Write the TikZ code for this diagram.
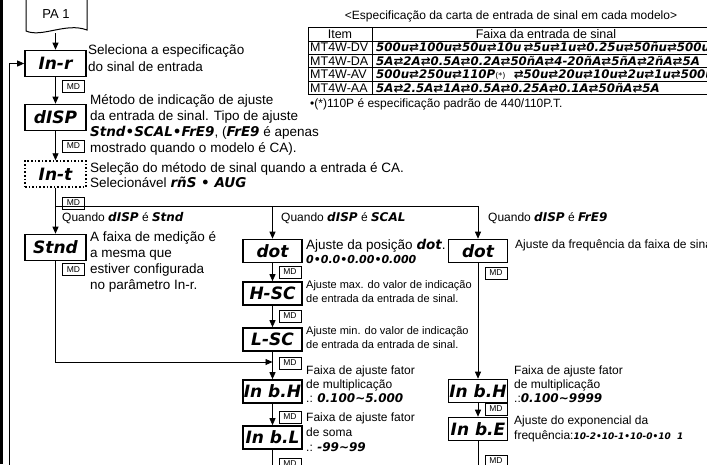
\documentclass[tikz,border=0pt]{standalone}
\usepackage{fontspec}
\setmainfont{Liberation Sans}
\newfontfamily\segfont{DejaVu Sans}
\usetikzlibrary{arrows.meta}
\newcommand{\segt}[1]{{\segfont\bfseries\itshape #1}}
\begin{document}
\begin{tikzpicture}[x=1pt,y=-1pt,
  dispbox/.style={draw, line width=1.6pt, minimum width=61pt, minimum height=26pt, inner sep=0pt,
    font=\segfont\bfseries\itshape\fontsize{17}{17}\selectfont},
  mdispbox/.style={dispbox, minimum width=59pt, minimum height=23pt},
  mdbox/.style={draw, line width=0.6pt, minimum width=22pt, minimum height=12pt, inner sep=0pt,
    font=\fontsize{8.5}{9}\selectfont},
  txt/.style={anchor=west, inner sep=0pt, align=left, font=\fontsize{13.5}{16}\selectfont},
  stxt/.style={anchor=west, inner sep=0pt, align=left, font=\fontsize{11}{13.5}\selectfont},
  conn/.style={line width=0.8pt},
  arr/.style={conn, -{Triangle[length=7pt,width=6pt]}},
  tline/.style={line width=0.7pt},
  ttxt/.style={inner sep=0pt, font=\fontsize{12.5}{12.5}\selectfont},
  tseg/.style={anchor=west, inner sep=0pt, font=\segfont\bfseries\itshape\fontsize{11.8}{12}\selectfont},
]
\useasboundingbox (0,0) rectangle (707,464);
\clip (0,0) rectangle (707,464);

% left page bar
\fill (0,0) rectangle (3,464);

% PA 1 document shape
\draw[line width=1pt] (26,-2) -- (26,31) .. controls (42,38) and (66,22) .. (87,30) -- (87,-2);
\node[inner sep=0pt, font=\fontsize{13}{13}\selectfont] (pa) at (56,14) {PA 1};
\coordinate (pab) at (55.5,33);

% left column
\node[dispbox] (inr) at (55.5,63.5) {In-r};
\node[dispbox] (disp) at (55.5,117.5) {dISP};
\node[dispbox, dotted, line width=1.4pt] (int) at (55.5,174) {In-t};
\node[dispbox] (stnd) at (55.5,247.5) {Stnd};

\node[mdbox] (md1) at (73.5,86.5) {MD};
\node[mdbox] (md2) at (73.5,146) {MD};
\node[mdbox] (md3) at (73.5,203) {MD};
\node[mdbox] (md4) at (73.5,269.5) {MD};

\node[txt, font=\fontsize{13.5}{17}\selectfont] (t1) at (88,58) {Seleciona a especificação\\do sinal de entrada};
\node[txt] (t2) at (90,125) {Método de indicação de ajuste\\da entrada de sinal. Tipo de ajuste\\\segt{Stnd•SCAL•FrE9}, (\segt{FrE9} é apenas\\mostrado quando o modelo é CA).};
\node[txt, font=\fontsize{13.5}{15}\selectfont] (t3) at (90,175.5) {Seleção do método de sinal quando a entrada é CA.\\Selecionável \segt{rñS • AUG}};
\node[txt] (t4) at (90,262) {A faixa de medição é\\a mesma que\\estiver configurada\\no parâmetro In-r.};

% connectors left
\draw[arr] (pab) -- (inr.north);
\draw[arr] (inr) -- (disp);
\draw[arr] (disp) -- (int);
\draw[arr] (int) -- (stnd);
\coordinate (loopb) at (9,470);
\draw[arr] (loopb) |- (inr.west);

% branch line
\coordinate (br) at (55.5,206);
\node[txt, font=\fontsize{12}{14}\selectfont] (q1) at (62,218) {Quando \segt{dISP} é \segt{Stnd}};
\node[txt, font=\fontsize{12}{14}\selectfont] (q2) at (281,218) {Quando \segt{dISP} é \segt{SCAL}};
\node[txt, font=\fontsize{12}{14}\selectfont] (q3) at (488,218) {Quando \segt{dISP} é \segt{FrE9}};

% middle column
\node[mdispbox] (dotm) at (272.5,251) {dot};
\node[mdispbox] (hsc) at (272.5,293.5) {H-SC};
\node[mdispbox] (lsc) at (272.5,339.5) {L-SC};
\node[mdispbox] (inbh) at (272.5,391.5) {In b.H};
\node[mdispbox] (inbl) at (272.5,437.5) {In b.L};

\node[mdbox] (md5) at (290,272) {MD};
\node[mdbox] (md6) at (290,316) {MD};
\node[mdbox] (md7) at (290,363) {MD};
\node[mdbox] (md8) at (290,417) {MD};
\node[mdbox] (md9) at (290,464) {MD};

\node[txt, font=\fontsize{13.5}{14}\selectfont] (m1) at (306,251) {Ajuste da posição \segt{dot}.\\{\segt{\fontsize{11}{11}\selectfont 0•0.0•0.00•0.000}}};
\node[stxt] (m2) at (306,291.5) {Ajuste max. do valor de indicação\\de entrada da entrada de sinal.};
\node[stxt] (m3) at (306,337.5) {Ajuste min. do valor de indicação\\de entrada da entrada de sinal.};
\node[stxt, font=\fontsize{12}{14}\selectfont] (m4) at (306,384.5) {Faixa de ajuste fator\\de multiplicação\\.: \segt{0.100\textasciitilde 5.000}};
\node[stxt, font=\fontsize{12}{15}\selectfont] (m5) at (306,432) {Faixa de ajuste fator\\de soma\\.: \segt{-99\textasciitilde 99}};

\draw[arr] (br) -| (dotm.north);
\draw[arr] (dotm) -- (hsc);
\draw[arr] (hsc) -- (lsc);
\draw[arr] (lsc) -- (inbh);
\draw[arr] (inbh) -- (inbl);
\coordinate (mend) at (272.5,470);
\draw[conn] (inbl) -- (mend);

\coordinate (sc) at (55.5,362);
\coordinate (mj) at (272.5,362);
\draw[arr] (stnd.south) -- (sc) -- (mj);

% right column
\node[mdispbox, minimum width=59pt] (dotr) at (478,251) {dot};
\node[mdispbox, minimum width=59pt] (inbhr) at (478,391) {In b.H};
\node[mdispbox, minimum width=59pt] (inbe) at (478,429) {In b.E};

\node[mdbox] (md10) at (496,273) {MD};
\node[mdbox] (md11) at (496,409) {MD};
\node[mdbox] (md12) at (496,461) {MD};

\node[stxt, font=\fontsize{12}{14}\selectfont] (r1) at (515,245) {Ajuste da frequência da faixa de sinal};
\node[stxt, font=\fontsize{12}{14}\selectfont] (r2) at (514,384.5) {Faixa de ajuste fator\\de multiplicação\\.:\segt{0.100\textasciitilde 9999}};
\node[stxt, font=\fontsize{12}{15}\selectfont] (r3) at (514,428.5) {Ajuste do exponencial da\\frequência:{\segfont\bfseries\itshape\fontsize{9}{10}\selectfont 10-2•10-1•10-0•10\ \ 1}};

\draw[arr] (br) -| (dotr.north);
\draw[arr] (dotr) -- (inbhr);
\draw[arr] (inbhr) -- (inbe);
\coordinate (rend) at (478,470);
\draw[conn] (inbe) -- (rend);

% table
\node[ttxt, font=\fontsize{12}{12}\selectfont] (ttl) at (511,16) {<Especificação da carta de entrada de sinal em cada modelo>};
\draw[line width=1pt] (308,27) rectangle (720,94.5);
\draw[tline] (308,41) -- (720,41);
\draw[tline] (308,54) -- (720,54);
\draw[tline] (308,67.5) -- (720,67.5);
\draw[tline] (308,81) -- (720,81);
\draw[tline] (372,27) -- (372,94.5);
\node[ttxt] (hi) at (340,34) {Item};
\node[ttxt] (hf) at (546,34) {Faixa da entrada de sinal};
\node[ttxt, anchor=west] (r1n) at (310,47.5) {MT4W-DV};
\node[ttxt, anchor=west] (r2n) at (310,61) {MT4W-DA};
\node[ttxt, anchor=west] (r3n) at (310,74.5) {MT4W-AV};
\node[ttxt, anchor=west] (r4n) at (310,88) {MT4W-AA};
\node[tseg] (r1v) at (376,47.5) {500u⇄100u⇄50u⇄10u\,⇄5u⇄1u⇄0.25u⇄50ñu⇄500u};
\node[tseg] (r2v) at (376,61) {5A⇄2A⇄0.5A⇄0.2A⇄50ñA⇄4-20ñA⇄5ñA⇄2ñA⇄5A};
\node[tseg] (r3v) at (376,74.5) {500u⇄250u⇄110P{\mdseries\upshape\fontsize{8}{8}\selectfont(*)}\ \ ⇄50u⇄20u⇄10u⇄2u⇄1u⇄500u};
\node[tseg] (r4v) at (376,88) {5A⇄2.5A⇄1A⇄0.5A⇄0.25A⇄0.1A⇄50ñA⇄5A};
\node[ttxt, anchor=west, font=\fontsize{12}{12}\selectfont] (fn) at (310,104) {•(*)110P é especificação padrão de 440/110P.T.};
\end{tikzpicture}
\end{document}
